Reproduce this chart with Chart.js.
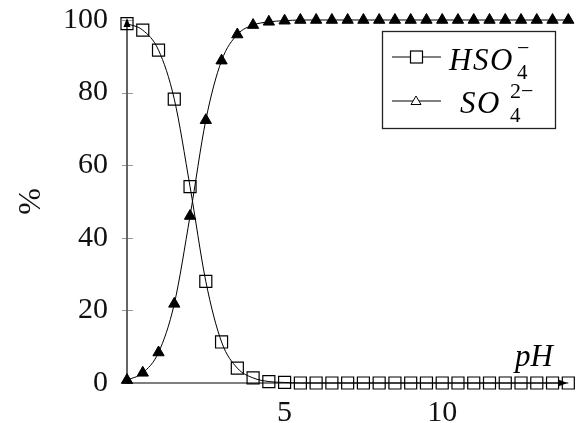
<!DOCTYPE html>
<html>
<head>
<meta charset="utf-8">
<script src="https://cdn.jsdelivr.net/npm/chart.js@4.4.1/dist/chart.umd.min.js"></script>
<style>
  html, body { margin: 0; padding: 0; background: #fff; overflow: hidden; }
  #wrap { position: relative; width: 578px; height: 423px; }
  #grafico { position: absolute; left: 0; top: 0; }
  #overlay { position: absolute; left: 0; top: 0; pointer-events: none; }
  .math { font-family: "Liberation Serif", "DejaVu Serif", serif; font-style: italic; }
  .up { font-family: "Liberation Serif", "DejaVu Serif", serif; font-style: normal; }
</style>
</head>
<body>
<div id="wrap">
  <canvas id="grafico" width="578" height="423"></canvas>
  <svg id="overlay" width="578" height="423" xmlns="http://www.w3.org/2000/svg">
    <!-- legenda -->
    <rect x="382.5" y="31.5" width="173" height="97" fill="#fff" stroke="#222" stroke-width="1.3"/>
    <line x1="392" y1="57" x2="441" y2="57" stroke="#000" stroke-width="1"/>
    <rect x="410.5" y="51" width="12" height="12" fill="#fff" stroke="#000" stroke-width="1.2"/>
    <line x1="392" y1="101" x2="441" y2="101" stroke="#000" stroke-width="1"/>
    <polygon points="416,96 411,104.5 421,104.5" fill="#fff" stroke="#000" stroke-width="1"/>
    <text class="math" x="449" y="70" font-size="31" letter-spacing="1.5">HSO</text>
    <text class="up" x="517" y="55" font-size="22">−</text>
    <text class="up" x="517" y="79" font-size="21">4</text>
    <text class="math" x="460" y="113" font-size="31" letter-spacing="1.5">SO</text>
    <text class="up" x="510" y="98" font-size="22">2−</text>
    <text class="up" x="510" y="122" font-size="21">4</text>
    <!-- rótulo do eixo x -->
    <text class="math" x="515" y="366" font-size="31">pH</text>
  </svg>
</div>
<script>
// dados
const phValues = [0, 0.5, 1, 1.5, 2, 2.5, 3, 3.5, 4, 4.5, 5, 5.5, 6, 6.5, 7, 7.5,
  8, 8.5, 9, 9.5, 10, 10.5, 11, 11.5, 12, 12.5, 13, 13.5, 14];
const hso4 = [99, 97.2, 91.7, 78.2, 54.1, 28, 11.3, 4.1, 1.4, 0.4, 0.15, 0, 0, 0, 0, 0,
  0, 0, 0, 0, 0, 0, 0, 0, 0, 0, 0, 0, 0];
const so4 = [0.8, 2.8, 8.4, 21.8, 46, 72.4, 88.8, 96, 98.6, 99.5, 99.8, 100, 100, 100, 100, 100,
  100, 100, 100, 100, 100, 100, 100, 100, 100, 100, 100, 100, 100];
const xTickValues = [5, 10];
const yTickValues = [0, 20, 40, 60, 80, 100];

const serif = "'Liberation Serif', 'DejaVu Serif', serif";

// eixos com setas, desenhados por baixo das marcas
const axesPlugin = {
  id: "axes",
  beforeDatasetsDraw(chart) {
    const ctx = chart.ctx;
    const xs = chart.scales.x;
    const ys = chart.scales.y;
    const x0 = xs.getPixelForValue(0);
    const y0 = ys.getPixelForValue(0);
    const yTop = ys.getPixelForValue(100) - 2;
    const xEnd = xs.getPixelForValue(14) - 1;
    ctx.save();
    // marcas do eixo y
    ctx.strokeStyle = "#999";
    ctx.lineWidth = 1;
    yTickValues.forEach((v) => {
      const y = Math.round(ys.getPixelForValue(v)) + 0.5;
      ctx.beginPath();
      ctx.moveTo(x0 - 5, y);
      ctx.lineTo(x0 + 6, y);
      ctx.stroke();
    });
    // eixo y
    ctx.strokeStyle = "#555";
    ctx.lineWidth = 1.8;
    ctx.beginPath();
    ctx.moveTo(x0, y0);
    ctx.lineTo(x0, yTop + 6);
    ctx.stroke();
    ctx.fillStyle = "#000";
    ctx.beginPath();
    ctx.moveTo(x0, yTop);
    ctx.lineTo(x0 - 3.5, yTop + 9);
    ctx.lineTo(x0 + 3.5, yTop + 9);
    ctx.closePath();
    ctx.fill();
    // eixo x
    ctx.strokeStyle = "#000";
    ctx.lineWidth = 1.2;
    ctx.beginPath();
    ctx.moveTo(x0, y0);
    ctx.lineTo(xEnd - 6, y0);
    ctx.stroke();
    ctx.beginPath();
    ctx.moveTo(xEnd, y0);
    ctx.lineTo(xEnd - 9, y0 - 3.5);
    ctx.lineTo(xEnd - 9, y0 + 3.5);
    ctx.closePath();
    ctx.fill();
    ctx.restore();
  },
};

const ctx = document.getElementById("grafico");
new Chart(ctx.getContext("2d"), {
  type: "line",
  data: {
    datasets: [
      {
        label: "HSO4-",
        data: phValues.map((x, i) => ({ x, y: hso4[i] })),
        borderColor: "#000",
        borderWidth: 1,
        cubicInterpolationMode: "monotone",
        pointStyle: "rect",
        pointRadius: 8.5,
        pointBorderWidth: 1.2,
        pointBorderColor: "#000",
        pointBackgroundColor: "rgba(0,0,0,0)",
        clip: false,
      },
      {
        label: "SO4 2-",
        data: phValues.map((x, i) => ({ x, y: so4[i] })),
        borderColor: "#000",
        borderWidth: 1,
        cubicInterpolationMode: "monotone",
        pointStyle: "triangle",
        pointRadius: 6.5,
        pointBorderWidth: 1,
        pointBorderColor: "#000",
        pointBackgroundColor: "#000",
        clip: false,
      },
    ],
  },
  options: {
    responsive: false,
    animation: false,
    devicePixelRatio: 1,
    layout: { padding: { top: 20, right: 6, left: 0, bottom: 0 } },
    plugins: { legend: { display: false }, tooltip: { enabled: false } },
    scales: {
      x: {
        type: "linear",
        min: 0,
        max: 14,
        grid: { display: false },
        border: { display: false },
        afterBuildTicks: (s) => { s.ticks = xTickValues.map((v) => ({ value: v })); },
        afterFit: (s) => { s.height = 40; },
        ticks: { padding: 4, maxRotation: 0, color: "#111", font: { family: serif, size: 30 } },
      },
      y: {
        min: 0,
        max: 100,
        grid: { display: false },
        border: { display: false },
        afterBuildTicks: (s) => { s.ticks = yTickValues.map((v) => ({ value: v })); },
        afterFit: (s) => { s.width = 127; },
        ticks: { padding: 11, color: "#111", font: { family: serif, size: 30, lineHeight: 0.4 } },
        title: {
          display: true,
          text: "%",
          color: "#111",
          padding: { top: 12, bottom: 0 },
          font: { family: serif, size: 32 },
        },
      },
    },
  },
  plugins: [axesPlugin],
});
</script>
</body>
</html>
